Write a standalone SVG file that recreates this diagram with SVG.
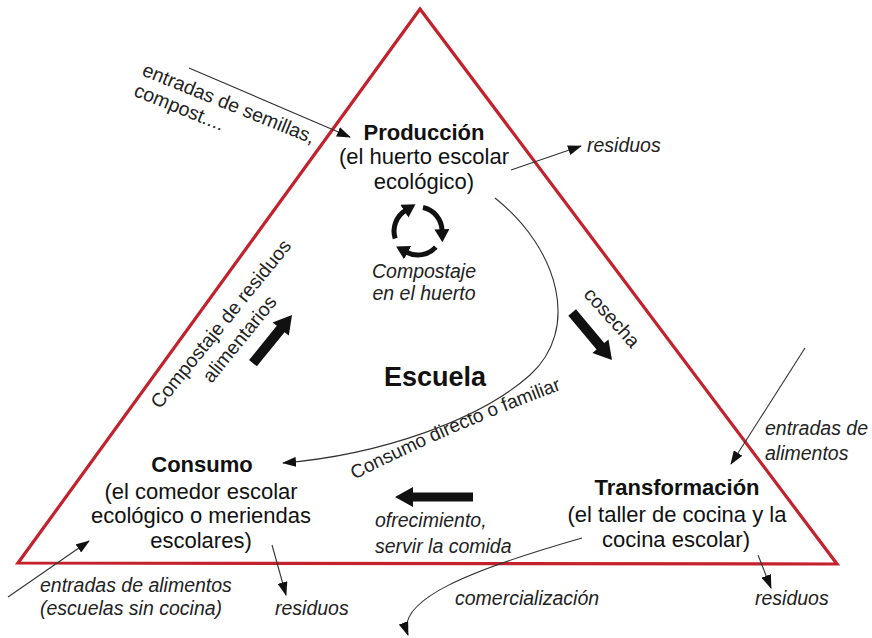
<svg xmlns="http://www.w3.org/2000/svg" width="872" height="638" viewBox="0 0 872 638">
<style>
.node{font-family:"Liberation Sans",Arial,sans-serif;font-size:22px;fill:#111;text-anchor:middle}
.b{font-weight:bold}
.lbl{font-family:"Liberation Sans",Arial,sans-serif;font-size:19.5px;fill:#222}
.it{font-style:italic}
.thin{fill:none;stroke:#333;stroke-width:1.1;marker-end:url(#ah)}
.thick{fill:#111}
.cyc{fill:none;stroke:#111;stroke-width:5;marker-end:url(#ch)}
</style>
<defs>
<marker id="ah" markerUnits="userSpaceOnUse" viewBox="0 0 14 10" markerWidth="14" markerHeight="10" refX="13" refY="5" orient="auto">
<path d="M0,0 L14,5 L0,10 z" fill="#111"/>
</marker>
<marker id="ch" markerUnits="userSpaceOnUse" viewBox="0 0 13 15" markerWidth="13" markerHeight="15" refX="1" refY="7.5" orient="auto">
<path d="M0,0 L13,7.5 L0,15 z" fill="#111"/>
</marker>
<path id="cdf" d="M 352 481 Q 455 428 582 382"/>
</defs>
<rect width="872" height="638" fill="#fff"/>
<polygon id="triangle" points="420,9 18,563 837,564" fill="none" stroke="#c3212b" stroke-width="3.2" stroke-linejoin="miter"/>

<g id="connectors">
<path class="thin" d="M189 68 L350 137"/>
<path class="thin" d="M511 170 L581 146"/>
<path class="thin" d="M805 348 L731 464"/>
<path class="thin" d="M758 555 L771 588"/>
<path class="thin" d="M272 545 L286 595"/>
<path class="thin" d="M8 597 L89 541"/>
<path class="thin" d="M495 198 C560 250,580 330,530 375 C480 420,380 455,283 463"/>
<path class="thin" d="M582 538 C470 570,395 600,408 635"/>
<polygon class="thick" transform="translate(395,497) rotate(180)" points="-78,-4.5 -18,-4.5 -18,-10 0,0 -18,10 -18,4.5 -78,4.5"/>
<polygon class="thick" transform="translate(612,360) rotate(50)" points="-62,-5 -18,-5 -18,-10.5 0,0 -18,10.5 -18,5 -62,5"/>
<polygon class="thick" transform="translate(292,315) rotate(-51)" points="-62,-5 -18,-5 -18,-10.5 0,0 -18,10.5 -18,5 -62,5"/>
<g id="cycle">
<path class="cyc" d="M423.0 207.5 A24 24 0 0 1 442.0 230.2"/>
<path class="cyc" d="M435.8 247.1 A24 24 0 0 1 406.7 252.2"/>
<path class="cyc" d="M395.2 238.4 A24 24 0 0 1 405.3 210.7"/>
</g>
</g>

<g id="produccion">
<text class="node b" x="424" y="140">Producción</text>
<text class="node" x="424" y="164">(el huerto escolar</text>
<text class="node" x="424" y="189">ecológico)</text>
</g>
<g id="compostaje-huerto">
<text class="lbl it" x="424" y="278" text-anchor="middle">Compostaje</text>
<text class="lbl it" x="424" y="300" text-anchor="middle">en el huerto</text>
</g>
<g id="escuela">
<text class="node b" x="435" y="386" style="font-size:27px">Escuela</text>
</g>
<g id="consumo">
<text class="node b" x="202" y="472">Consumo</text>
<text class="node" x="201" y="499">(el comedor escolar</text>
<text class="node" x="201" y="523">ecológico o meriendas</text>
<text class="node" x="201" y="548">escolares)</text>
</g>
<g id="transformacion">
<text class="node b" x="677" y="495">Transformación</text>
<text class="node" x="677" y="522">(el taller de cocina y la</text>
<text class="node" x="676" y="547">cocina escolar)</text>
</g>

<g id="labels">
<g transform="translate(141,75) rotate(22)">
<text class="lbl" x="0" y="0">entradas de semillas,</text>
<text class="lbl" x="0" y="22">compost....</text>
</g>
<text class="lbl it" x="587" y="152">residuos</text>
<g transform="translate(226,328) rotate(-51)">
<text class="lbl" x="0" y="0" text-anchor="middle">Compostaje de residuos</text>
<text class="lbl" x="0" y="24" text-anchor="middle">alimentarios</text>
</g>
<text class="lbl" transform="translate(607,322) rotate(48)" text-anchor="middle">cosecha</text>
<text class="lbl" style="font-size:19px"><textPath href="#cdf" startOffset="3">Consumo directo o familiar</textPath></text>
<text class="lbl it" x="765" y="435">entradas de</text>
<text class="lbl it" x="765" y="460">alimentos</text>
<text class="lbl it" x="375" y="527">ofrecimiento,</text>
<text class="lbl it" x="375" y="553">servir la comida</text>
<text class="lbl it" x="40" y="592">entradas de alimentos</text>
<text class="lbl it" x="40" y="615">(escuelas sin cocina)</text>
<text class="lbl it" x="275" y="615">residuos</text>
<text class="lbl it" x="455" y="605">comercialización</text>
<text class="lbl it" x="755" y="605">residuos</text>
</g>
</svg>
